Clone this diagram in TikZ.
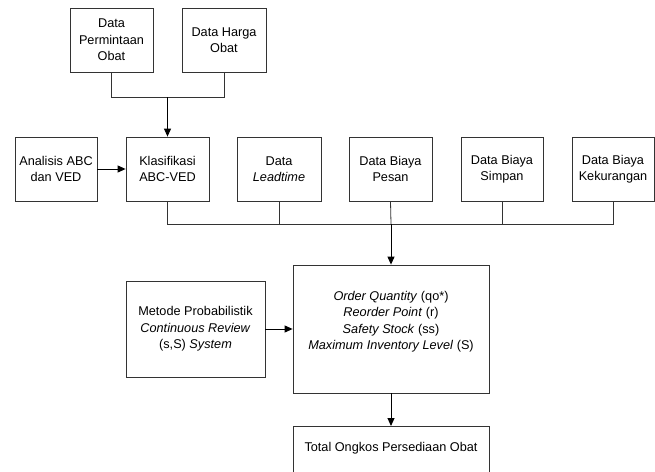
\documentclass[tikz,border=0pt]{standalone}
\usepackage{fontspec}
\setmainfont{Liberation Sans}
\usetikzlibrary{arrows.meta}
\begin{document}
\begin{tikzpicture}[x=1pt,y=-1pt,
  box/.style={draw=black!80,line width=0.8pt,fill=white,align=center,inner sep=0pt,
    font=\fontsize{12.7}{16.5}\selectfont},
  conn/.style={draw=black!80,line width=0.8pt},
  arr/.style={draw=black,line width=1pt,-{Triangle[length=8pt,width=7pt]}}]
\useasboundingbox (0,0) rectangle (655,471);
% row 1
\node[box,minimum width=83,minimum height=64] (perm) at (111.5,40) {Data\\Permintaan\\Obat};
\node[box,minimum width=84,minimum height=64] (harga) at (224,40) {Data Harga\\Obat};
% row 2
\node[box,minimum width=82,minimum height=64] (abc) at (56,169) {Analisis ABC\\dan VED};
\node[box,minimum width=83,minimum height=64] (klas) at (167.5,169) {Klasifikasi\\ABC-VED};
\node[box,minimum width=84,minimum height=64] (lead) at (279,169) {Data\\\textit{Leadtime}};
\node[box,minimum width=83,minimum height=64] (pesan) at (390.5,169) {Data Biaya\\Pesan};
\node[box,minimum width=82,minimum height=64] (simpan) at (502,169) {Data Biaya\\Simpan};
\node[box,minimum width=82,minimum height=64] (kurang) at (613,169) {Data Biaya\\Kekurangan};
% row 3
\node[box,minimum width=139,minimum height=96] (metode) at (195.5,329) {Metode Probabilistik\\\textit{Continuous Review}\\(s,S) \textit{System}};
\node[box,minimum width=196,minimum height=128] (order) at (391,329) {\smash{\raisebox{4.5pt}{\begin{tabular}{@{}c@{}}\textit{Order Quantity} (qo*)\\\textit{Reorder Point} (r)\\\textit{Safety Stock} (ss)\\\textit{Maximum Inventory Level} (S)\end{tabular}}}};
% row 4
\node[box,minimum width=196,minimum height=48,anchor=north] (total) at (391,426) {\smash{\raisebox{-1.5pt}{Total Ongkos Persediaan Obat}}};
% junction coordinates
\coordinate (j1) at (167.5,97);
\coordinate (j2) at (391,224);
% top connectors
\draw[conn] (perm.south) -- (perm.south |- j1) -- (harga.south |- j1) -- (harga.south);
\draw[arr] (j1) -- (klas.north);
% row 2 connectors
\draw[conn] (klas.south) -- (klas.south |- j2) -- (kurang.south |- j2) -- (kurang.south);
\draw[conn] (lead.south) -- (lead.south |- j2);
\draw[conn] (simpan.south) -- (simpan.south |- j2);
\draw[conn] (pesan.south) -- (j2);
\draw[arr] (j2) -- (order.north);
\draw[arr] (abc.east) -- (klas.west);
\draw[arr] (metode.east) -- (order.west |- metode.east);
\draw[arr] (order.south) -- (total.north);
\end{tikzpicture}
\end{document}
